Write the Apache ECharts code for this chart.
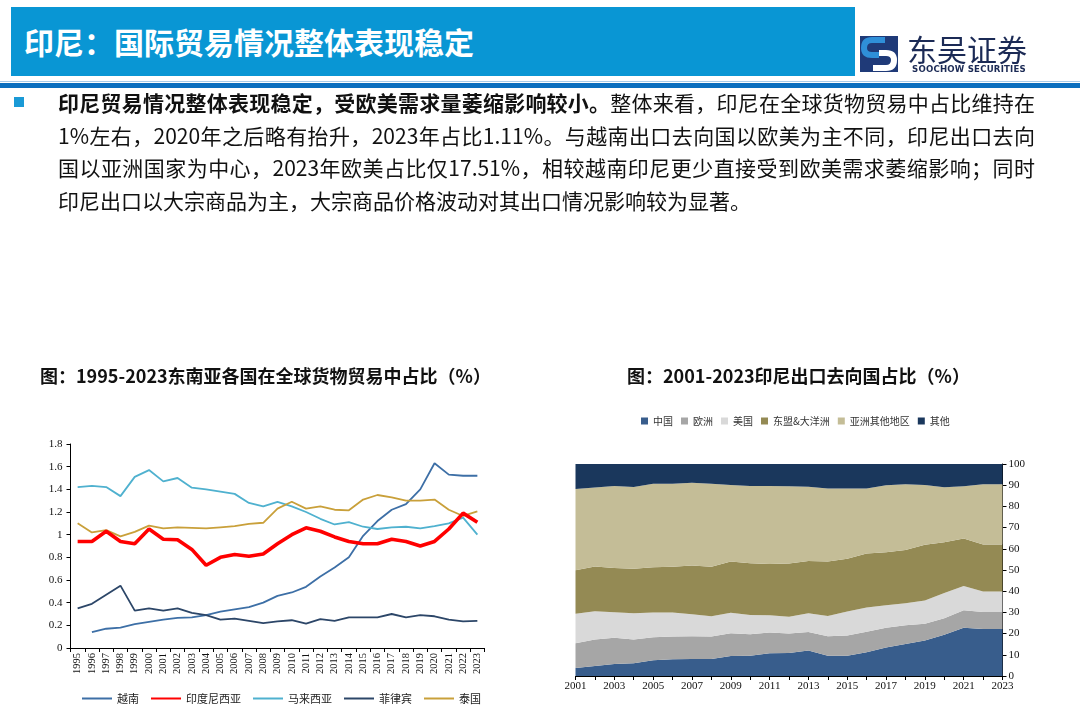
<!DOCTYPE html>
<html>
<head>
<meta charset="utf-8">
<script src="https://cdn.jsdelivr.net/npm/echarts@6.0.0/dist/echarts.min.js"></script>
<style>
  body { margin: 0; width: 1080px; height: 712px; background: #fff; position: relative; overflow: hidden;
         font-family: "Noto Sans CJK SC", "Noto Sans", sans-serif; }
  #chart { position: absolute; left: 0; top: 0; width: 1080px; height: 712px; }
  .abs { position: absolute; }
  #head { left: 11px; top: 7px; width: 844px; height: 69px; background: #0996d4; }
  #head span { position: absolute; left: 13px; top: 14px; color: #fff; font-size: 30px; font-weight: bold; line-height: 40px; }
  #rule1 { left: 0; top: 81px; width: 1080px; height: 1px; background: #a9cbe8; }
  #rule2 { left: 0; top: 83px; width: 1080px; height: 5px; background: #0b6fbf; }
  #logoTxt { left: 907px; top: 29px; font-size: 30px; color: #1b2a55; line-height: 38px; }
  #logoEn { left: 912px; top: 64px; font-size: 8.6px; font-weight: bold; color: #1b2a55; letter-spacing: 0.2px; font-family: "DejaVu Sans", sans-serif; }
  #bullet { left: 14px; top: 97px; width: 10px; height: 10px; background: #1a9ad6; }
  #para { left: 58px; top: 86px; width: 977px; font-size: 21px; line-height: 32.5px; color: #111; }
  #para div { text-align: justify; text-align-last: justify; }
  #para div.last { text-align-last: left; }
  .ttl { font-size: 18px; font-weight: bold; color: #111; line-height: 24px; }
</style>
</head>
<body>
<div id="chart"></div>
<div id="head" class="abs"><span>印尼：国际贸易情况整体表现稳定</span></div>
<svg class="abs" style="left:860px;top:36px" width="38" height="36" viewBox="0 0 38 36">
  <rect x="0" y="0" width="38" height="36" fill="#1f3a78"/>
  <path d="M25 4 L12 4 Q4 4 4 12 Q4 19 12 19 L19 19" stroke="#2f8fd8" stroke-width="6" fill="none"/>
  <path d="M13 32 L26 32 Q34 32 34 24 Q34 17 26 17 L19 17" stroke="#ffffff" stroke-width="6" fill="none"/>
</svg>
<div id="logoTxt" class="abs">东吴证券</div>
<div id="logoEn" class="abs">SOOCHOW SECURITIES</div>
<div id="rule1" class="abs"></div>
<div id="rule2" class="abs"></div>
<div id="bullet" class="abs"></div>
<div id="para" class="abs">
  <div><b>印尼贸易情况整体表现稳定，受欧美需求量萎缩影响较小。</b>整体来看，印尼在全球货物贸易中占比维持在</div>
  <div>1%左右，2020年之后略有抬升，2023年占比1.11%。与越南出口去向国以欧美为主不同，印尼出口去向</div>
  <div>国以亚洲国家为中心，2023年欧美占比仅17.51%，相较越南印尼更少直接受到欧美需求萎缩影响；同时</div>
  <div class="last">印尼出口以大宗商品为主，大宗商品价格波动对其出口情况影响较为显著。</div>
</div>
<div class="abs ttl" style="left:40px;top:363px">图：1995-2023东南亚各国在全球货物贸易中占比（%）</div>
<div class="abs ttl" style="left:627px;top:363px">图：2001-2023印尼出口去向国占比（%）</div>

<script>
// 左图：东南亚各国在全球货物贸易中占比（%）
var years1 = ['1995','1996','1997','1998','1999','2000','2001','2002','2003','2004','2005','2006','2007','2008','2009','2010',
  '2011','2012','2013','2014','2015','2016','2017','2018','2019','2020','2021','2022','2023'];
var vietnam = ['-',0.14,0.17,0.18,0.21,0.23,0.25,0.265,0.27,0.29,0.32,0.34,0.36,0.40,0.46,0.49,
  0.54,0.63,0.71,0.80,0.99,1.12,1.22,1.27,1.40,1.63,1.53,1.52,1.52];
var indonesia = [0.94,0.94,1.03,0.94,0.92,1.05,0.96,0.955,0.87,0.73,0.80,0.825,0.81,0.83,0.92,1.00,
  1.06,1.03,0.98,0.94,0.92,0.92,0.96,0.94,0.90,0.94,1.05,1.19,1.11];
var malaysia = [1.42,1.43,1.42,1.34,1.51,1.57,1.47,1.50,1.415,1.40,1.38,1.36,1.28,1.25,1.29,1.25,
  1.20,1.14,1.09,1.11,1.07,1.05,1.065,1.07,1.055,1.075,1.10,1.15,1.00];
var philippines = [0.35,0.39,0.47,0.55,0.33,0.35,0.33,0.35,0.31,0.29,0.25,0.26,0.24,0.22,0.235,0.245,
  0.215,0.255,0.24,0.27,0.27,0.27,0.30,0.27,0.29,0.28,0.25,0.235,0.24];
var thailand = [1.10,1.02,1.04,0.985,1.025,1.08,1.055,1.065,1.06,1.055,1.065,1.075,1.095,1.105,1.23,1.29,
  1.23,1.25,1.22,1.215,1.31,1.35,1.33,1.30,1.30,1.31,1.22,1.165,1.205];
var names1 = ['越南','印度尼西亚','马来西亚','菲律宾','泰国'];

// 右图：印尼出口去向国占比（%）
var years2 = ['2001','2002','2003','2004','2005','2006','2007','2008','2009','2010','2011','2012',
  '2013','2014','2015','2016','2017','2018','2019','2020','2021','2022','2023'];
var china = [3.8,4.7,5.7,6.0,7.4,7.9,8.0,8.0,9.4,9.6,10.7,10.9,12.0,9.6,9.6,11.2,13.5,15.1,16.7,19.5,22.8,22.2,22.2];
var europe = [11.6,12.5,12.3,11.2,10.9,10.7,10.7,10.6,10.8,10.1,9.8,9.1,8.8,9.1,9.5,9.7,9.3,8.8,8.0,7.7,8.2,8.0,8.0];
var usa = [14.0,13.4,12.1,12.4,11.6,11.3,10.4,9.6,9.6,9.1,8.2,8.0,8.8,9.6,11.3,11.4,10.6,10.4,10.9,12.0,11.4,9.6,9.6];
var asean = [20.5,21.1,20.9,21.0,21.4,21.6,23.0,23.3,24.2,24.4,24.1,25.1,24.7,25.7,24.9,25.5,25.0,25.1,26.3,23.9,22.4,22.2,22.2];
var otherAsia = [38.3,37.2,38.6,38.6,39.4,39.2,39.1,39.2,36.1,36.4,36.8,36.4,35.0,34.4,33.1,30.6,31.6,31.0,28.2,25.9,24.7,28.4,28.4];
var others = [11.8,11.1,10.4,10.8,9.3,9.3,8.8,9.3,9.9,10.4,10.4,10.5,10.7,11.6,11.6,11.6,10.0,9.6,9.9,11.0,10.5,9.6,9.6];
var names2 = ['中国','欧洲','美国','东盟&大洋洲','亚洲其他地区','其他'];

var serif = '"Liberation Serif", "Times New Roman", serif';
var cjk = '"Noto Sans CJK SC", sans-serif';

var colors1 = ['#3d6fa6','#ff0000','#4fb1cf','#2c4668','#c9a03a'];
var data1 = [vietnam, indonesia, malaysia, philippines, thailand];
var colors2 = ['#385d8c','#a6a6a6','#d9d9d9','#948a54','#c4bd97','#1a375c'];
var data2 = [china, europe, usa, asean, otherAsia, others];

var series = [];
for (var i = 0; i < names1.length; i++) {
  series.push({
    name: names1[i], type: 'line', xAxisIndex: 0, yAxisIndex: 0,
    data: data1[i], symbol: 'none', smooth: false, z: i === 1 ? 5 : 3,
    lineStyle: { width: i === 1 ? 3.6 : 1.8, color: colors1[i] },
    itemStyle: { color: colors1[i] }
  });
}
for (var j = 0; j < names2.length; j++) {
  series.push({
    name: names2[j], type: 'line', xAxisIndex: 1, yAxisIndex: 1, stack: 'share',
    data: data2[j], symbol: 'none',
    lineStyle: { width: 0 },
    areaStyle: { color: colors2[j], opacity: 1 },
    itemStyle: { color: colors2[j] }
  });
}

var chart = echarts.init(document.getElementById('chart'));
var option = {
  animation: false,
  backgroundColor: 'transparent',
  legend: [{
    data: names1, left: 76, top: 688, itemWidth: 30, itemHeight: 8, itemGap: 11,
    itemStyle: { opacity: 0 },
    textStyle: { fontSize: 11, color: '#222', fontFamily: cjk }
  }, {
    data: names2, left: 636, top: 411, itemWidth: 7, itemHeight: 7, itemGap: 8, icon: 'rect',
    textStyle: { fontSize: 10, color: '#333', fontFamily: cjk }
  }],
  grid: [
    { left: 70.5, top: 444, width: 414, height: 204, outerBoundsMode: 'none' },
    { left: 575.5, top: 464, width: 427, height: 212, outerBoundsMode: 'none' }
  ],
  xAxis: [{
    type: 'category', gridIndex: 0, data: years1, boundaryGap: true,
    axisLine: { show: true, lineStyle: { color: '#000', width: 1 } },
    axisTick: { show: true, interval: 0, length: 4, lineStyle: { color: '#000' } },
    axisLabel: { interval: 0, rotate: 90, fontSize: 10.5, color: '#111', fontFamily: serif, margin: 5 },
    splitLine: { show: false }
  }, {
    type: 'category', gridIndex: 1, data: years2, boundaryGap: false,
    axisLine: { show: true, lineStyle: { color: '#000', width: 1 } },
    axisTick: { show: true, interval: 0, length: 4, lineStyle: { color: '#000' } },
    axisLabel: { interval: 1, fontSize: 11, color: '#111', fontFamily: serif, margin: 5 },
    splitLine: { show: false }
  }],
  yAxis: [{
    type: 'value', gridIndex: 0, min: 0, max: 1.8, interval: 0.2,
    axisLine: { show: true, lineStyle: { color: '#000', width: 1 } },
    axisTick: { show: true, length: 4, lineStyle: { color: '#000' } },
    axisLabel: { fontSize: 11, color: '#111', fontFamily: serif, margin: 8 },
    splitLine: { show: false }
  }, {
    type: 'value', gridIndex: 1, position: 'right', min: 0, max: 100, interval: 10,
    axisLine: { show: true, lineStyle: { color: '#000', width: 1 } },
    axisTick: { show: true, length: 4, lineStyle: { color: '#000' } },
    axisLabel: { fontSize: 11, color: '#111', fontFamily: serif, margin: 6 },
    splitLine: { show: false }
  }],
  series: series
};
chart.setOption(option);
</script>
</body>
</html>
